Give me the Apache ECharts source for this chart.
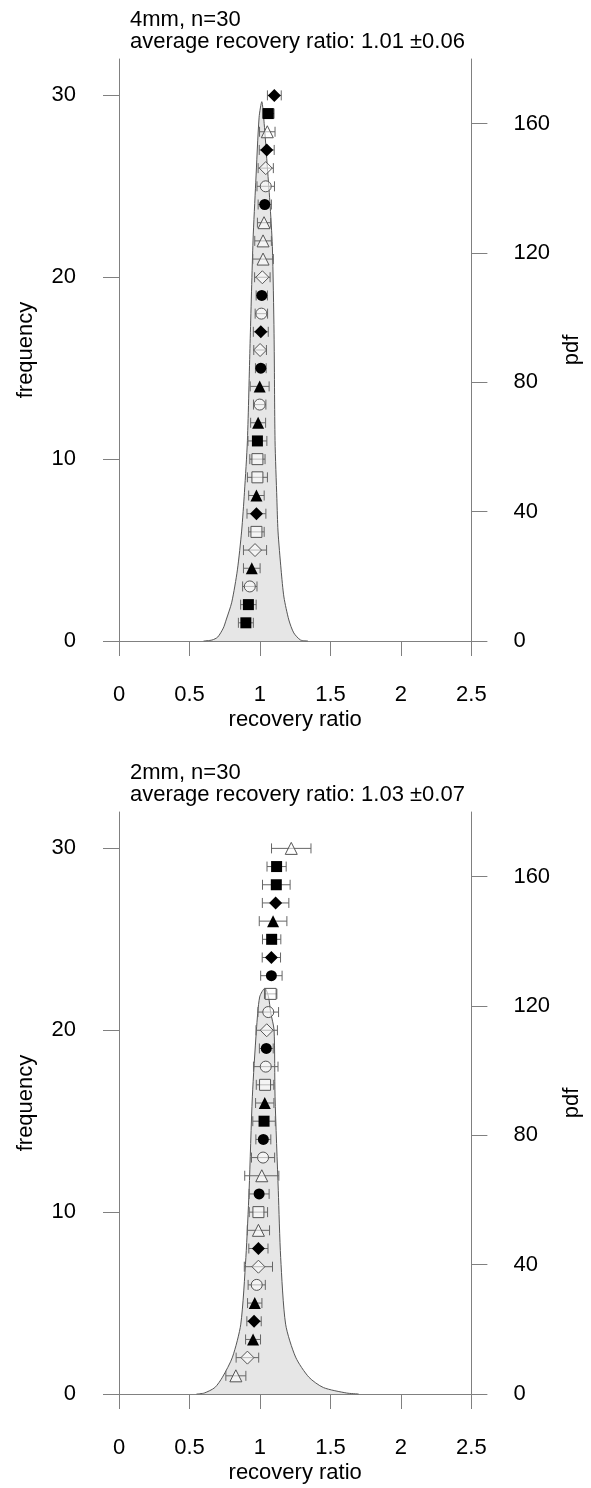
<!DOCTYPE html>
<html>
<head>
<meta charset="utf-8">
<script src="https://cdn.jsdelivr.net/npm/echarts@6/dist/echarts.min.js"></script>
<style>
  html, body { margin: 0; padding: 0; background: #fff; }
  #chart { width: 591px; height: 1488px; }
</style>
</head>
<body>
<div id="chart"></div>
<script>
// frequency positions (shared by both panels)
var freq = [1, 2, 3, 4, 5, 6, 7, 8, 9, 10, 11, 12, 13, 14, 15, 16, 17, 18, 19, 20, 21, 22, 23, 24, 25, 26, 27, 28, 29, 30];

// 4mm panel
var top_ratio = [0.900, 0.918, 0.928, 0.942, 0.965, 0.975, 0.975, 0.975, 0.982, 0.982,
                 0.982, 0.987, 0.998, 0.998, 1.006, 1.001, 1.006, 1.010, 1.013, 1.017,
                 1.022, 1.022, 1.029, 1.034, 1.041, 1.041, 1.048, 1.052, 1.059, 1.102];
var top_err = [0.053, 0.055, 0.051, 0.059, 0.082, 0.055, 0.067, 0.055, 0.071, 0.054,
               0.067, 0.053, 0.044, 0.067, 0.038, 0.045, 0.053, 0.044, 0.040, 0.055,
               0.073, 0.059, 0.047, 0.047, 0.062, 0.054, 0.053, 0.055, 0.041, 0.049];
// f = filled, o = open; s = square, c = circle, t = triangle, d = diamond
var top_marker = ['fs', 'fs', 'oc', 'ft', 'od', 'os', 'fd', 'ft', 'os', 'os',
                  'fs', 'ft', 'oc', 'ft', 'fc', 'od', 'fd', 'oc', 'fc', 'od',
                  'ot', 'ot', 'ot', 'fc', 'oc', 'od', 'fd', 'ot', 'fs', 'fd'];
var top_pdf_x = [0.60, 0.66, 0.70, 0.74, 0.76, 0.80, 0.84, 0.87, 0.89, 0.911, 0.93, 0.951, 0.97, 0.994, 1.013,
                 1.03, 1.05, 1.07, 1.088, 1.10, 1.107, 1.12, 1.128, 1.15, 1.17, 1.205, 1.24, 1.288, 1.34];
var top_pdf_y = [0, 0.3, 1.2, 4, 6.5, 12, 22, 34, 46, 62, 92, 124, 141.7, 162, 166.8,
                 160, 148, 136, 122, 95, 62, 44, 34, 22, 13.6, 6.5, 2.5, 0.3, 0];

// 2mm panel
var bot_ratio = [0.829, 0.911, 0.951, 0.958, 0.963, 0.977, 0.989, 0.989, 0.989, 0.989,
                 0.994, 1.013, 1.022, 1.024, 1.029, 1.034, 1.036, 1.041, 1.045, 1.048,
                 1.059, 1.076, 1.081, 1.081, 1.083, 1.093, 1.111, 1.116, 1.118, 1.222];
var bot_err = [0.071, 0.080, 0.053, 0.051, 0.051, 0.061, 0.100, 0.068, 0.079, 0.065,
               0.071, 0.121, 0.082, 0.053, 0.080, 0.065, 0.062, 0.087, 0.049, 0.076,
               0.073, 0.044, 0.076, 0.065, 0.065, 0.098, 0.094, 0.098, 0.068, 0.140];
var bot_marker = ['ot', 'od', 'ft', 'fd', 'ft', 'oc', 'od', 'fd', 'ot', 'os',
                  'fc', 'ot', 'oc', 'fc', 'fs', 'ft', 'os', 'oc', 'fc', 'od',
                  'oc', 'os', 'fc', 'fd', 'fs', 'ft', 'fd', 'fs', 'fs', 'ot'];
var bot_pdf_x = [0.55, 0.605, 0.68, 0.734, 0.805, 0.864, 0.90, 0.923, 0.946, 0.975, 0.998, 1.035,
                 1.06, 1.076, 1.10, 1.107, 1.13, 1.147, 1.182, 1.253, 1.347, 1.45, 1.615, 1.70];
var bot_pdf_y = [0, 0.3, 2, 5.2, 11.4, 21.6, 42.2, 63, 91.9, 112.6, 122.8, 125.5,
                 123, 118, 112.6, 91.9, 63, 42.2, 21.6, 11.4, 5.2, 2, 0.3, 0];

var freq_ticks = [0, 10, 20, 30];
var pdf_ticks = [0, 40, 80, 120, 160];

var titles = [
    '4mm, n=30\naverage recovery ratio: 1.01 \u00b10.06',
    '2mm, n=30\naverage recovery ratio: 1.03 \u00b10.07'
];

var FONT = 'Liberation Sans, Arial, sans-serif';
var AXIS_COLOR = '#808080';
var BAR_COLOR = '#666666';

var chart = echarts.init(document.getElementById('chart'), null, { renderer: 'canvas' });

var shapes = { s: 'rect', c: 'circle', t: 'triangle', d: 'diamond' };
var sizes = { s: 11, c: 11, t: 12, d: 13 };

function markerPoints(ratio, marker) {
    return ratio.map(function (r, i) {
        var code = marker[i];
        var filled = code.charAt(0) === 'f';
        return {
            value: [r, freq[i]],
            symbol: shapes[code.charAt(1)],
            symbolSize: sizes[code.charAt(1)],
            itemStyle: filled
                ? { color: '#000', borderWidth: 0, opacity: 1 }
                : { color: 'rgba(255,255,255,0.55)', borderColor: '#555', borderWidth: 1, opacity: 1 }
        };
    });
}

function errData(ratio, err) {
    return ratio.map(function (r, i) { return [r, freq[i], err[i]]; });
}

function pdfData(xs, ys) {
    return xs.map(function (x, i) { return [x, ys[i]]; });
}

function renderErr(params, api) {
    var x = api.value(0), y = api.value(1), e = api.value(2);
    var a = api.coord([x - e, y]);
    var b = api.coord([x + e, y]);
    var h = 5;
    var st = { stroke: BAR_COLOR, lineWidth: 1 };
    return {
        type: 'group',
        children: [
            { type: 'line', shape: { x1: a[0], y1: a[1], x2: b[0], y2: b[1] }, style: st },
            { type: 'line', shape: { x1: a[0], y1: a[1] - h, x2: a[0], y2: a[1] + h }, style: st },
            { type: 'line', shape: { x1: b[0], y1: b[1] - h, x2: b[0], y2: b[1] + h }, style: st }
        ]
    };
}

var panelTop = [59, 812];
var grids = [], xAxes = [], yAxes = [], series = [], titleList = [];

var axisLine = { show: true, lineStyle: { color: AXIS_COLOR, width: 1 } };
var labelStyle = { color: '#000', fontSize: 22, fontFamily: FONT };

[0, 1].forEach(function (p) {
    grids.push({ left: 119, top: panelTop[p], width: 354, height: 582 });

    titleList.push({
        text: titles[p],
        left: 130,
        top: panelTop[p] - 50,
        padding: 0,
        textStyle: { color: '#000', fontSize: 22, fontWeight: 'normal', fontFamily: FONT, lineHeight: 22 }
    });

    xAxes.push({
        type: 'value', gridIndex: p, min: 0, max: 2.5, interval: 0.5,
        name: 'recovery ratio', nameLocation: 'middle', nameGap: 68,
        nameTextStyle: labelStyle,
        axisLine: axisLine,
        axisTick: { show: true, inside: false, length: 15, lineStyle: { color: AXIS_COLOR } },
        axisLabel: Object.assign({ margin: 43 }, labelStyle),
        splitLine: { show: false }
    });

    yAxes.push({
        type: 'value', gridIndex: p, position: 'left', min: 0, max: 32, interval: 10,
        name: 'frequency', nameLocation: 'middle', nameGap: 82, nameRotate: 90,
        nameTextStyle: labelStyle,
        axisLine: axisLine,
        axisTick: { show: true, length: 16, customValues: freq_ticks, lineStyle: { color: AXIS_COLOR } },
        axisLabel: Object.assign({ margin: 43, customValues: freq_ticks }, labelStyle),
        splitLine: { show: false }
    });
    yAxes.push({
        type: 'value', gridIndex: p, position: 'right', min: 0, max: 180, interval: 40,
        name: 'pdf', nameLocation: 'middle', nameGap: 80, nameRotate: 90,
        nameTextStyle: labelStyle,
        axisLine: axisLine,
        axisTick: { show: true, length: 16, customValues: pdf_ticks, lineStyle: { color: AXIS_COLOR } },
        axisLabel: Object.assign({ margin: 42, customValues: pdf_ticks }, labelStyle),
        splitLine: { show: false }
    });

    var px = p === 0 ? top_pdf_x : bot_pdf_x;
    var py = p === 0 ? top_pdf_y : bot_pdf_y;
    var ratio = p === 0 ? top_ratio : bot_ratio;
    var err = p === 0 ? top_err : bot_err;
    var marker = p === 0 ? top_marker : bot_marker;

    series.push({
        type: 'line', xAxisIndex: p, yAxisIndex: p * 2 + 1,
        data: pdfData(px, py),
        smooth: 0.25,
        showSymbol: false,
        lineStyle: { color: '#555', width: 1 },
        areaStyle: { color: '#e6e6e6', opacity: 1 },
        z: 1,
        silent: true
    });
    series.push({
        type: 'custom', xAxisIndex: p, yAxisIndex: p * 2,
        data: errData(ratio, err),
        encode: { x: 0, y: 1 },
        renderItem: renderErr,
        z: 2,
        silent: true
    });
    series.push({
        type: 'scatter', xAxisIndex: p, yAxisIndex: p * 2,
        data: markerPoints(ratio, marker),
        z: 3,
        silent: true
    });
});

var option = {
    animation: false,
    backgroundColor: '#fff',
    textStyle: { fontFamily: FONT },
    title: titleList,
    grid: grids,
    xAxis: xAxes,
    yAxis: yAxes,
    series: series
};

chart.setOption(option);
</script>
</body>
</html>
